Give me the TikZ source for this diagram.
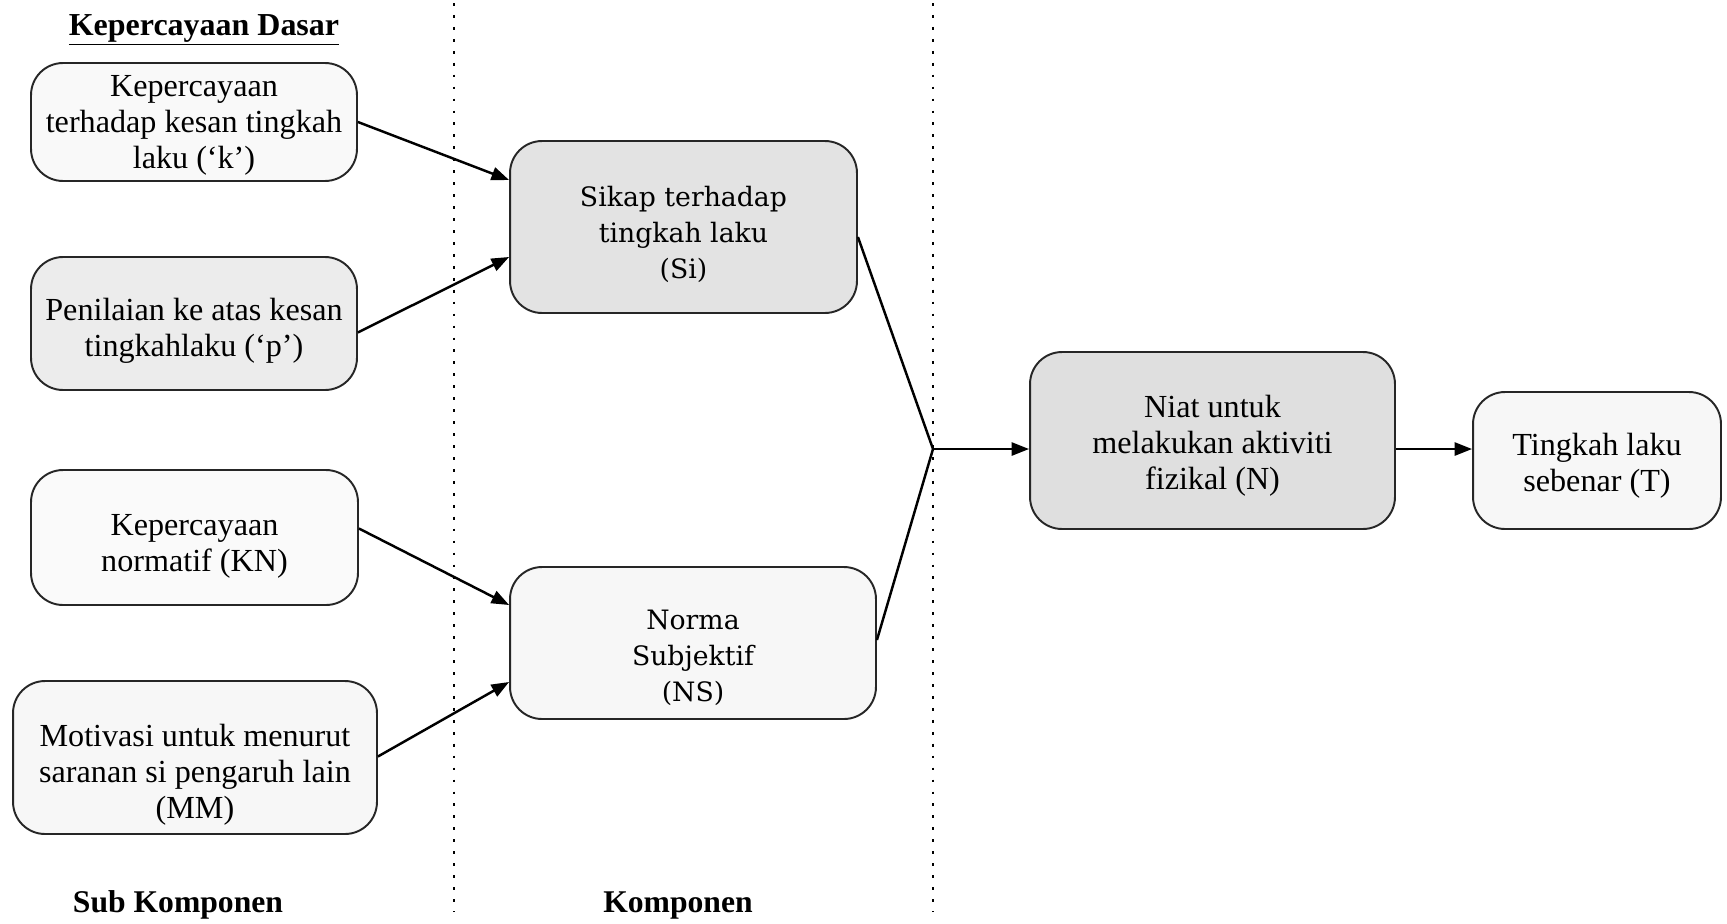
\documentclass[tikz,border=0pt]{standalone}
\usepackage{fontspec}
\setmainfont{Liberation Serif}
\newfontfamily\bookfont{DejaVu Serif}
\usetikzlibrary{arrows.meta,calc}
\begin{document}
\begin{tikzpicture}[x=0.02cm,y=-0.02cm,
  box/.style={draw=black!85, line width=1.1pt, rounded corners=0.64cm, inner sep=0pt},
  txt/.style={align=center, font=\fontsize{18.3}{20.5}\selectfont, inner sep=0pt},
  btxt/.style={align=center, font=\bookfont\fontsize{15.2}{20.5}\selectfont, inner sep=0pt},
  arr/.style={line width=1.4pt, -{Triangle[length=10pt,width=7.5pt]}},
  con/.style={line width=1.4pt},
  sep/.style={line width=0.9pt, dash pattern=on 1.6pt off 5.2pt},
  lab/.style={font=\bfseries\fontsize{18}{20}\selectfont, inner sep=0pt, anchor=base}
]
\useasboundingbox (0,0) rectangle (1727,923);

% separators
\draw[sep] (454,3) -- (454,912);
\draw[sep] (933,3) -- (933,912);

% headings
\node[font=\rmfamily\bfseries\fontsize{18.2}{22}\selectfont, inner sep=0pt, anchor=base] (title) at (204,35) {\underline{\rmfamily\bfseries Kepercayaan Dasar}};
\node[lab] (subk) at (178,912) {Sub Komponen};
\node[lab] (komp) at (678,912) {Komponen};

% sub components
\node[box, fill=gray!5, minimum width=6.52cm, minimum height=2.36cm] (B1) at (194,122) {};
\node[txt] (B1t) at (194,125) {Kepercayaan\\terhadap kesan tingkah\\laku (‘k’)};
\node[box, fill=gray!15, minimum width=6.52cm, minimum height=2.66cm] (B2) at (194,323.5) {};
\node[txt] (B2t) at (194,331) {Penilaian ke atas kesan\\tingkahlaku (‘p’)};
\node[box, fill=gray!4, minimum width=6.54cm, minimum height=2.70cm] (B3) at (194.5,537.5) {};
\node[txt] (B3t) at (194.5,546) {Kepercayaan\\normatif (KN)};
\node[box, fill=gray!6, minimum width=7.28cm, minimum height=3.06cm] (B4) at (195,757.5) {};
\node[txt] (B4t) at (195,775) {Motivasi untuk menurut\\saranan si pengaruh lain\\(MM)};

% components
\node[box, fill=gray!22, minimum width=6.94cm, minimum height=3.44cm] (Si) at (683.5,227) {};
\node[btxt] (Sit) at (683.5,234) {Sikap terhadap\\tingkah laku\\(Si)};
\node[box, fill=gray!6, minimum width=7.32cm, minimum height=3.04cm] (NS) at (693,643) {};
\node[btxt] (NSt) at (693,658) {Norma\\Subjektif\\(NS)};

% intention and behaviour
\node[box, fill=gray!25, minimum width=7.30cm, minimum height=3.54cm] (N) at (1212.5,440.5) {};
\node[txt] (Nt) at (1212.5,446) {Niat untuk\\melakukan aktiviti\\fizikal (N)};
\node[box, fill=gray!6, minimum width=4.96cm, minimum height=2.74cm] (T) at (1597,460.5) {};
\node[txt] (Tt) at (1597,466) {Tingkah laku\\sebenar (T)};

\coordinate (J) at (933,449);

% connectors
\draw[arr] (B1.east) -- ($(Si.west)+(0,-47)$);
\draw[arr] ($(B2.east)+(0,9)$) -- ($(Si.west)+(0,30)$);
\draw[arr] ($(B3.east)+(0,-9)$) -- ($(NS.west)+(0,-38)$);
\draw[arr] ($(B4.east)+(0,-1)$) -- ($(NS.west)+(0,39)$);
\draw[con] ($(Si.east)+(0,10)$) -- (J);
\draw[con] ($(NS.east)+(0,-3)$) -- (J);
\draw[arr] (J) -- (N.west |- J);
\draw[arr] (N.east |- J) -- (T.west |- J);
\end{tikzpicture}
\end{document}
